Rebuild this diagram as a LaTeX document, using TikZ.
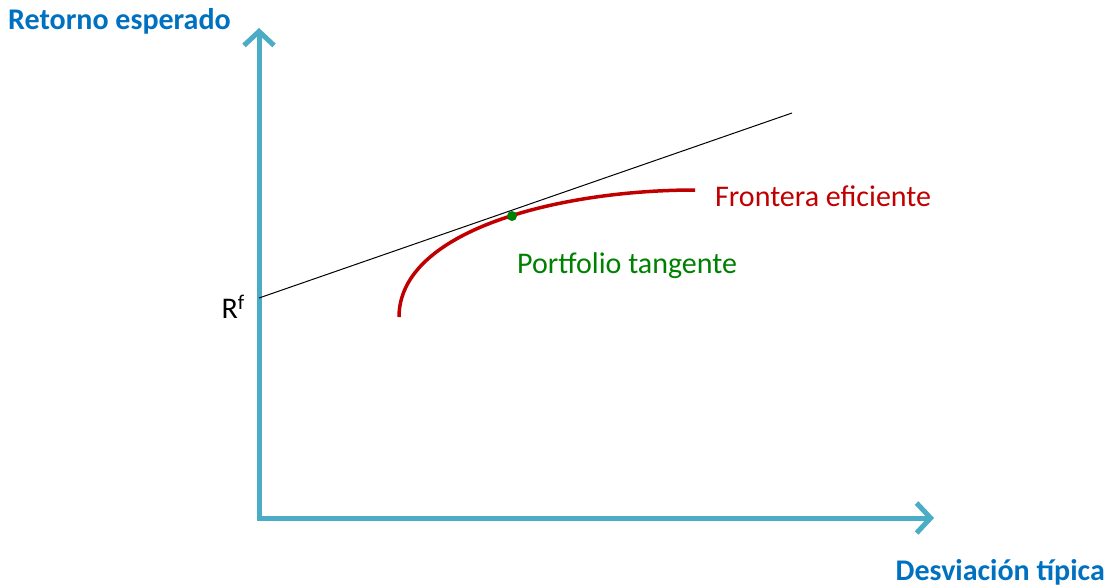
\documentclass[tikz,border=0pt]{standalone}
\usepackage{fontspec}
\setmainfont{Carlito}
\usepackage{tikz}
\usetikzlibrary{arrows.meta,positioning}
\usepackage{xcolor}
\definecolor{axblue}{RGB}{75,172,198}
\definecolor{lblblue}{RGB}{0,112,192}
\definecolor{frred}{RGB}{192,0,0}
\definecolor{tggreen}{RGB}{0,128,0}
\tikzstyle{axis} = [line width=5pt,color=axblue,-{Straight Barb[length=14pt,width=30pt,line width=5pt]}]
\tikzstyle{axlabel} = [font=\fontsize{30}{34}\selectfont\bfseries,color=lblblue,inner sep=0pt]
\tikzstyle{curvelabel} = [font=\fontsize{30}{34}\selectfont,inner sep=0pt]

\begin{document}
\begin{tikzpicture}[x=1pt, y=-1pt]
\useasboundingbox (0,0) rectangle (1113,587);

\coordinate (origin) at (259,518);
\coordinate (ytop) at (259,28);
\coordinate (xend) at (934,518);
\draw[axis] (259,520) -- (ytop);
\draw[axis] (257,518) -- (xend);

\node[axlabel, anchor=west] (ylabel) at (8,21) {Retorno esperado};
\node[axlabel, anchor=east] (xlabel) at (1105,572) {Desviación típica};

% capital market line
\coordinate (rf) at (259,298);
\coordinate (cmlend) at (792,113);
\draw[black, line width=1pt] (rf) -- (cmlend);
\node[curvelabel, anchor=east] (rflabel) at (245,307) {R\textsuperscript{f}};

% efficient frontier
\coordinate (frstart) at (399,317);
\coordinate (frend) at (695,190);
\draw[frred, line width=3.5pt] (frstart) .. controls (399,230) and (560,190) .. (frend);
\node[curvelabel, color=frred, anchor=west] (frlabel) at (715,196) {Frontera eficiente};

% tangency portfolio
\node[fill=tggreen, circle, inner sep=0pt, minimum size=10pt] (tangent) at (512,216) {};
\node[curvelabel, color=tggreen, anchor=west] (tglabel) at (517,266) {Portfolio tangente};
\end{tikzpicture}
\end{document}
